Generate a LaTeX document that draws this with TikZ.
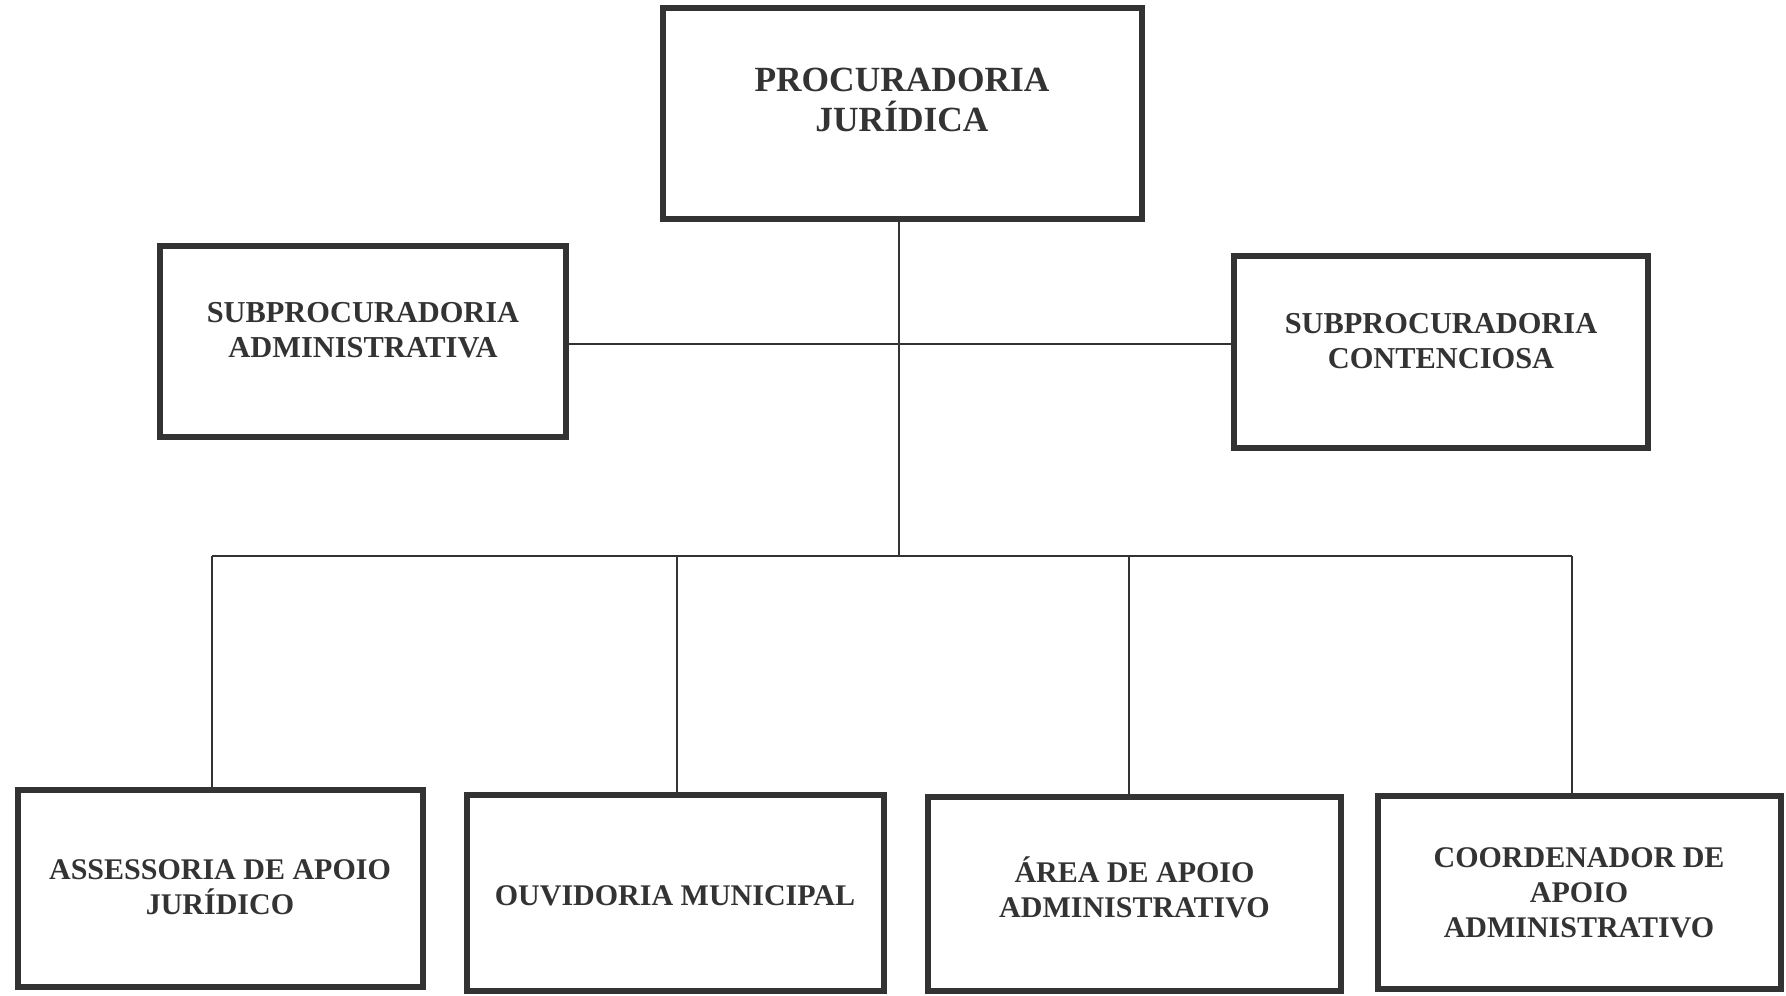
\documentclass[tikz,border=0pt]{standalone}
\usepackage{fontspec}
\setmainfont{Liberation Serif}
\definecolor{ink}{HTML}{333333}
\begin{document}
\begin{tikzpicture}[x=0.5pt,y=-0.5pt,
  orgbox/.style={draw=ink, line width=3pt, rectangle, inner sep=0pt},
  lbl/.style={align=center, text=ink, inner sep=0pt},
  big/.style={font=\fontsize{17.7}{20}\selectfont\bfseries},
  mid/.style={font=\fontsize{15.2}{17.5}\selectfont\bfseries},
  low/.style={font=\fontsize{15}{17.5}\selectfont\bfseries},
  conn/.style={draw=ink, line width=1pt}]
\useasboundingbox (0,0) rectangle (1786,995);
\node[orgbox, minimum width=239.5pt, minimum height=105.5pt] (top) at (902,113.5) {};
\node[orgbox, minimum width=203pt, minimum height=95.5pt] (sa) at (363,341) {};
\node[orgbox, minimum width=207pt, minimum height=96pt] (sc) at (1441,352) {};
\node[orgbox, minimum width=202.5pt, minimum height=98.5pt] (b1) at (220,888.5) {};
\node[orgbox, minimum width=208.5pt, minimum height=98pt] (b2) at (675,892.5) {};
\node[orgbox, minimum width=206.5pt, minimum height=97pt] (b3) at (1134.5,894) {};
\node[orgbox, minimum width=201.5pt, minimum height=96.5pt] (b4) at (1579,892.5) {};
\node[lbl, big] (topt) at (902,100) {PROCURADORIA\\JURÍDICA};
\node[lbl, mid] (sat) at (363,330) {SUBPROCURADORIA\\ADMINISTRATIVA};
\node[lbl, mid] (sct) at (1441,341) {SUBPROCURADORIA\\CONTENCIOSA};
\node[lbl, low] (b1t) at (220,887) {ASSESSORIA DE APOIO\\JURÍDICO};
\node[lbl, low] (b2t) at (675,896) {OUVIDORIA MUNICIPAL};
\node[lbl, low] (b3t) at (1134.5,887) {ÁREA DE APOIO\\ADMINISTRATIVO};
\node[lbl, low] (b4t) at (1579,893) {COORDENADOR DE\\APOIO\\ADMINISTRATIVO};
\coordinate (hub) at (899,556);
\coordinate (mid) at (899,344);
\coordinate (d1) at (212,556);
\coordinate (d2) at (677,556);
\coordinate (d3) at (1129,556);
\coordinate (d4) at (1572,556);
\draw[conn] (top.south -| hub) -- (hub);
\draw[conn] (sa.east |- mid) -- (sc.west |- mid);
\draw[conn] (d1) -- (d4);
\draw[conn] (d1) -- (d1 |- b1.north);
\draw[conn] (d2) -- (d2 |- b2.north);
\draw[conn] (d3) -- (d3 |- b3.north);
\draw[conn] (d4) -- (d4 |- b4.north);
\end{tikzpicture}
\end{document}
